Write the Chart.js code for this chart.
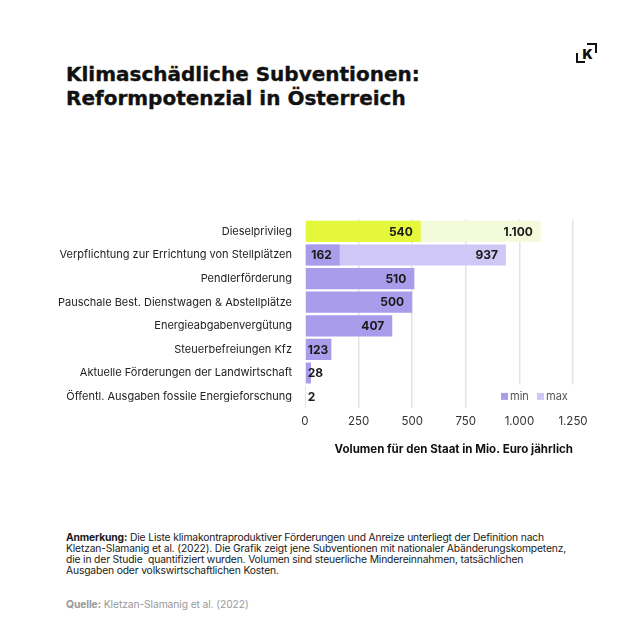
<!DOCTYPE html>
<html lang="de">
<head>
<meta charset="utf-8">
<script src="https://cdn.jsdelivr.net/npm/chart.js@4.4.1/dist/chart.umd.min.js"></script>
<style>
    html, body { margin: 0; padding: 0; background: #fff; }
    body { width: 640px; height: 640px; position: relative; overflow: hidden; font-family: Inter, 'Noto Sans', sans-serif; color: #111; }
    h1 { position: absolute; left: 66px; top: 62px; margin: 0; font-family: 'DejaVu Sans', sans-serif; font-size: 20px; line-height: 24px; font-weight: bold; letter-spacing: 0px; -webkit-text-stroke: 0.35px #111; }
    #chartBox { position: absolute; left: 0; top: 200px; width: 640px; height: 270px; }
    .note { position: absolute; left: 66px; top: 532px; font-size: 10.3px; line-height: 11px; color: #1a1a1a; letter-spacing: -0.15px; }
    .source { position: absolute; left: 66px; top: 598px; font-size: 10.3px; color: #999; letter-spacing: -0.1px; }
    .logo { position: absolute; left: 576px; top: 43px; width: 22px; height: 22px; }
    .logo .bl { position: absolute; left: 0; top: 10px; width: 7px; height: 8px; border-left: 2.5px solid #111; border-bottom: 2.5px solid #111; }
    .logo .tr { position: absolute; left: 11px; top: 0; width: 8px; height: 8px; border-right: 2.5px solid #111; border-top: 2.5px solid #111; }
    .logo .k { position: absolute; left: 6.5px; top: 4px; font-size: 13.5px; font-weight: 900; line-height: 14px; }
</style>
</head>
<body>
<h1>Klimaschädliche Subventionen:<br>Reformpotenzial in Österreich</h1>
<div class="logo"><div class="bl"></div><div class="tr"></div><div class="k">K</div></div>
<div id="chartBox"><canvas id="subsidyChart"></canvas></div>
<div class="note"><b>Anmerkung:</b> Die Liste klimakontraproduktiver Förderungen und Anreize unterliegt der Definition nach<br>Kletzan-Slamanig et al. (2022). Die Grafik zeigt jene Subventionen mit nationaler Abänderungskompetenz,<br>die in der Studie&nbsp; quantifiziert wurden. Volumen sind steuerliche Mindereinnahmen, tatsächlichen<br>Ausgaben oder volkswirtschaftlichen Kosten.</div>
<div class="source"><b>Quelle:</b> Kletzan-Slamanig et al. (2022)</div>
<script>
const categories = [
    'Dieselprivileg',
    'Verpflichtung zur Errichtung von Stellplätzen',
    'Pendlerförderung',
    'Pauschale Best. Dienstwagen & Abstellplätze',
    'Energieabgabenvergütung',
    'Steuerbefreiungen Kfz',
    'Aktuelle Förderungen der Landwirtschaft',
    'Öffentl. Ausgaben fossile Energieforschung'
];
const minValues = [540, 162, 510, 500, 407, 123, 28, 2];
const maxValues = [1100, 937, null, null, null, null, null, null];
const xTicks = [0, 250, 500, 750, 1000, 1250];

const minColors = minValues.map((v, i) => i === 0 ? '#e4f73b' : '#a99cea');
const maxColors = maxValues.map((v, i) => i === 0 ? '#f4fbda' : '#cfc7f6');

const fmt = v => Number(v).toLocaleString('de-DE');

const valueLabels = {
    id: 'valueLabels',
    afterDatasetsDraw(chart) {
        const ctx = chart.ctx;
        ctx.save();
        ctx.font = 'bold 12px Inter, sans-serif';
        ctx.fillStyle = '#1a1a1a';
        ctx.textBaseline = 'middle';
        ctx.textAlign = 'left';
        chart.data.datasets.forEach((ds, di) => {
            chart.getDatasetMeta(di).data.forEach((bar, i) => {
                const v = ds.data[i];
                if (v == null) return;
                const text = fmt(v);
                const w = ctx.measureText(text).width;
                const x = Math.max(bar.x - 8 - w, bar.base + 2);
                ctx.fillText(text, x, bar.y + 0.5);
            });
        });
        ctx.restore();
    }
};

const boxLegend = {
    id: 'boxLegend',
    afterDraw(chart) {
        const ctx = chart.ctx;
        const area = chart.chartArea;
        ctx.save();
        ctx.fillStyle = '#fff';
        ctx.fillRect(area.right - 80, area.bottom - 24, 84, 24);
        const y = area.bottom - 12;
        ctx.font = '11px Inter, sans-serif';
        ctx.textBaseline = 'middle';
        ctx.fillStyle = '#a99cea';
        ctx.fillRect(area.right - 72, y - 3.5, 7, 7);
        ctx.fillStyle = '#555';
        ctx.fillText('min', area.right - 63, y);
        ctx.fillStyle = '#cfc7f6';
        ctx.fillRect(area.right - 36, y - 3.5, 7, 7);
        ctx.fillStyle = '#555';
        ctx.fillText('max', area.right - 27, y);
        ctx.restore();
    }
};

new Chart(document.getElementById('subsidyChart'), {
    type: 'bar',
    data: {
        labels: categories,
        datasets: [
            { label: 'min', data: minValues, backgroundColor: minColors, grouped: false, barPercentage: 0.9, categoryPercentage: 1 },
            { label: 'max', data: maxValues, backgroundColor: maxColors, grouped: false, barPercentage: 0.9, categoryPercentage: 1 }
        ]
    },
    options: {
        indexAxis: 'y',
        responsive: true,
        maintainAspectRatio: false,
        animation: false,
        layout: { padding: { top: 18, right: 67, bottom: 10, left: 0 } },
        plugins: { legend: { display: false }, tooltip: { enabled: false } },
        scales: {
            x: {
                min: 0,
                max: 1250,
                afterBuildTicks: scale => { scale.ticks = xTicks.map(v => ({ value: v })); },
                ticks: { callback: v => fmt(v), color: '#333', font: { size: 11.5, family: 'Inter' }, padding: 6 },
                grid: {
                    color: c => c.tick && c.tick.value === 0 ? 'rgba(0,0,0,0)' : '#e3e3e3',
                    lineWidth: 1.5,
                    drawTicks: false
                },
                border: { display: false },
                title: {
                    display: true,
                    text: 'Volumen für den Staat in Mio. Euro jährlich',
                    align: 'end',
                    color: '#111',
                    font: { size: 11.5, weight: 'bold', family: 'Inter' },
                    padding: { top: 8 }
                }
            },
            y: {
                afterFit: scale => { scale.width = 305; },
                ticks: { color: '#222', font: { size: 11, family: 'Inter' }, padding: 13 },
                grid: { display: false, drawTicks: false },
                border: { display: false }
            }
        }
    },
    plugins: [valueLabels, boxLegend]
});
</script>
</body>
</html>
